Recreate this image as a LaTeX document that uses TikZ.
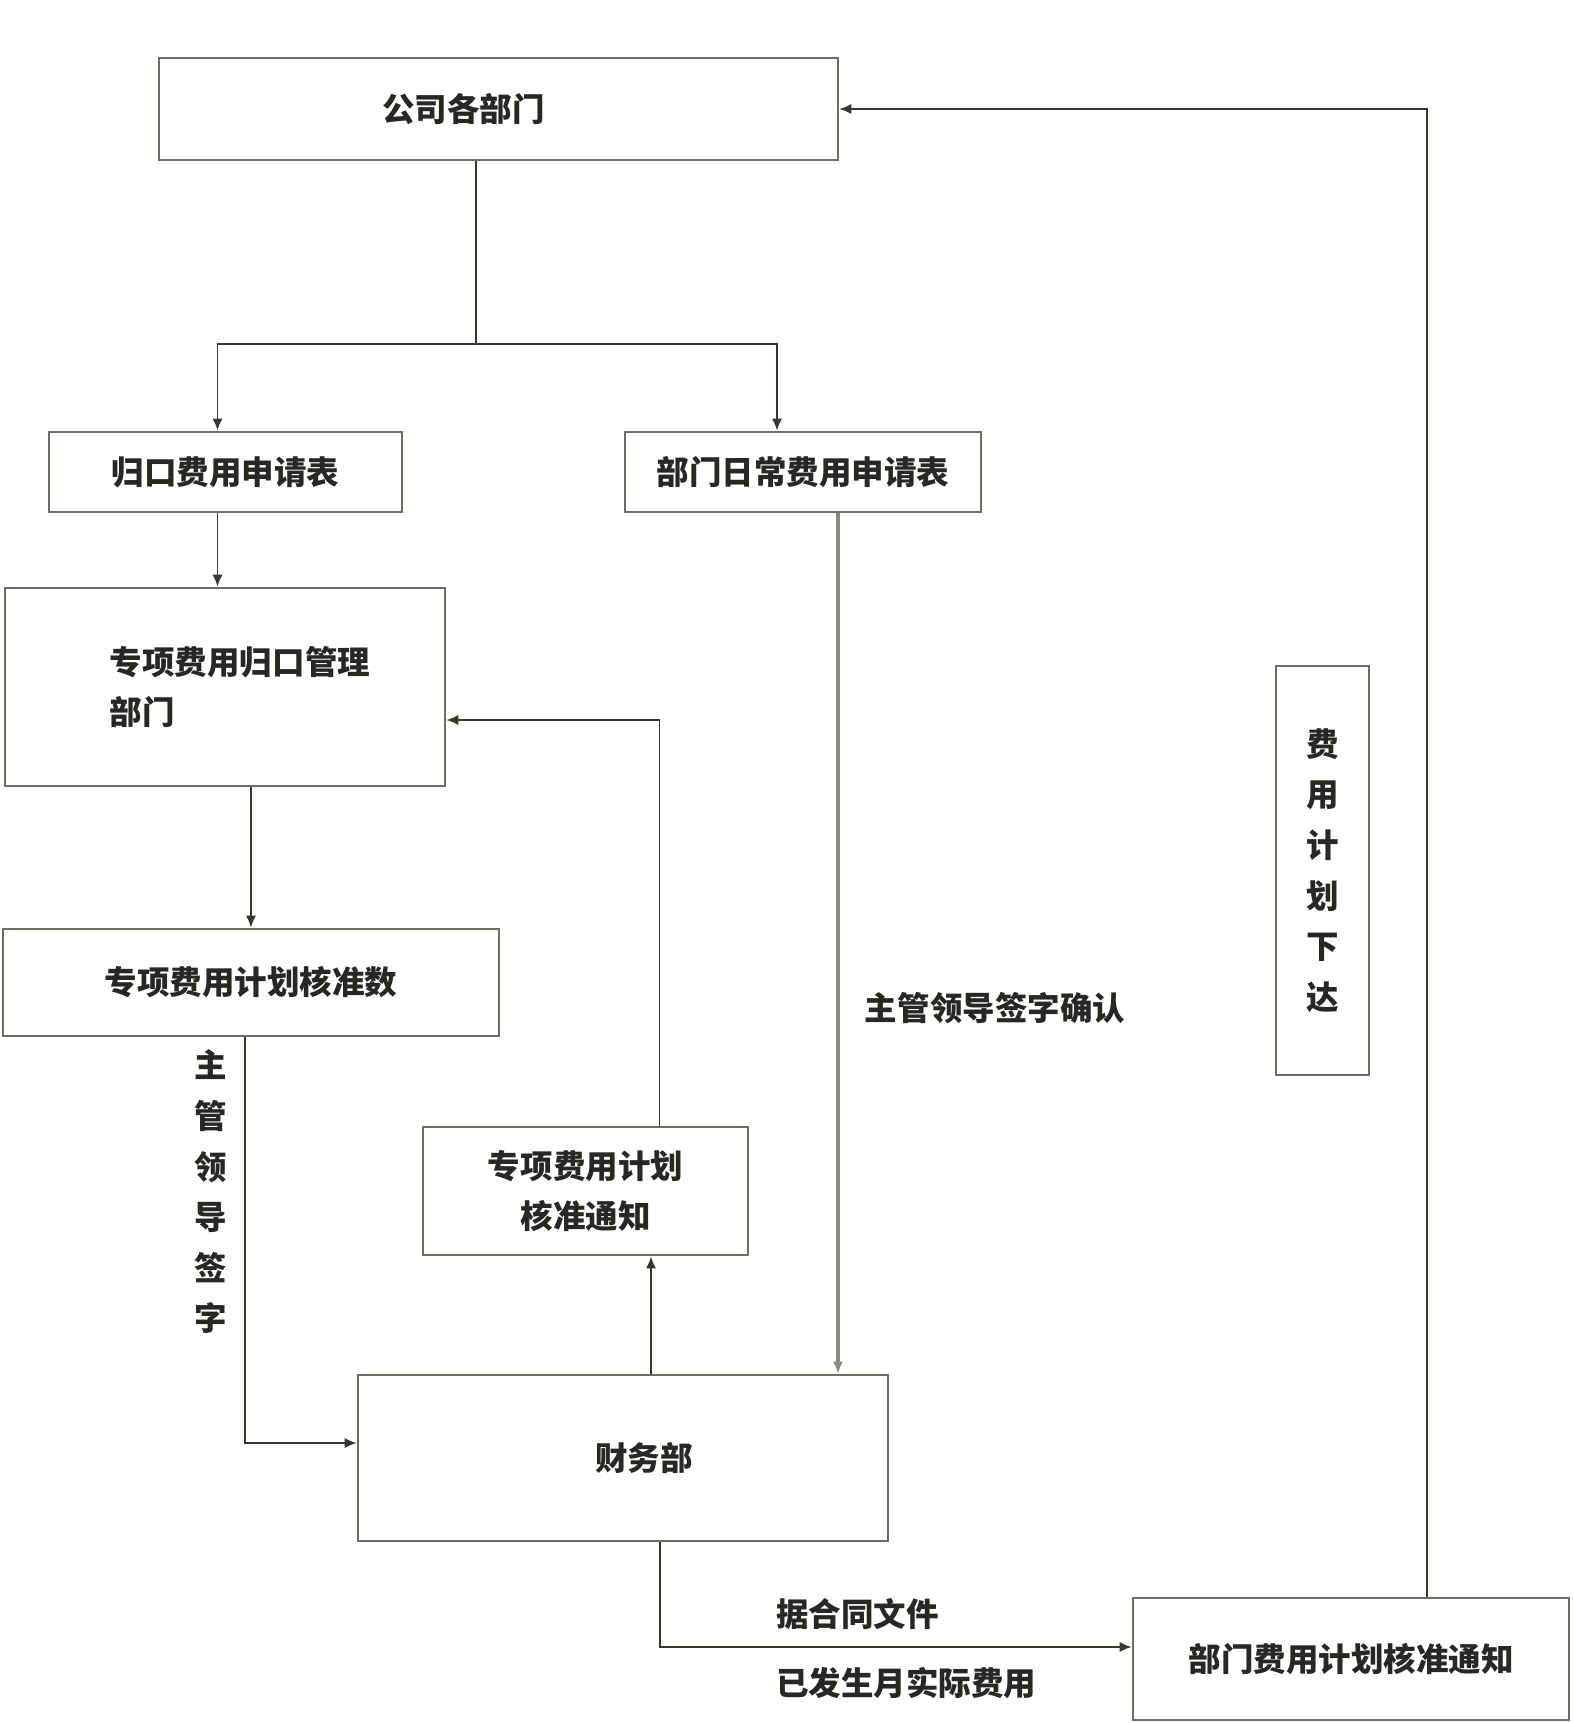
\documentclass[tikz,border=0pt]{standalone}
\usepackage{fontspec}
\newfontfamily\cjk{Noto Sans CJK SC}
\usepackage{tikz}
\usetikzlibrary{positioning,arrows.meta,calc}
\definecolor{lineclr}{RGB}{55,55,45}
\definecolor{boxclr}{RGB}{110,110,100}
\definecolor{txtclr}{RGB}{40,40,35}

\begin{document}
\begin{tikzpicture}[
      x=0.02cm, y=-0.02cm,
      box/.style={draw=boxclr, line width=1.5pt, inner sep=0pt, align=center, font=\cjk\bfseries\fontsize{18.5}{28.8}\selectfont, text=txtclr},
      lab/.style={inner sep=0pt, align=center, font=\cjk\bfseries\fontsize{18.5}{28.8}\selectfont, text=txtclr},
      link/.style={line width=1pt, draw=lineclr},
      arr/.style={-{Latex[length=2.4mm,width=2mm]}, line width=1pt, draw=lineclr}
  ]
    \fill[white] (0,0) rectangle (1573,1723);
    \useasboundingbox (0,0) rectangle (1573,1723);
    % boxes
    \node[box, minimum width=13.58cm, minimum height=2.04cm] (depts) at (498.5,109) {公司各部门\hspace*{1.4cm}};
    \node[box, minimum width=7.06cm, minimum height=1.6cm] (guikou) at (225.5,472) {归口费用申请表};
    \node[box, minimum width=7.12cm, minimum height=1.6cm] (daily) at (803,472) {部门日常费用申请表};
    \node[box, minimum width=8.8cm, minimum height=3.96cm, align=left] (mgmt) at (225,687) {\hspace*{0.6cm}专项费用归口管理\\\hspace*{0.6cm}部门};
    \node[box, minimum width=9.92cm, minimum height=2.14cm] (approved) at (251,982.5) {专项费用计划核准数};
    \node[box, minimum width=6.5cm, minimum height=2.56cm] (notice) at (585.5,1191) {专项费用计划\\核准通知};
    \node[box, minimum width=10.6cm, minimum height=3.32cm] (finance) at (623,1458) {\hspace*{0.84cm}财务部};
    \node[box, minimum width=8.72cm, minimum height=2.44cm] (deptnotice) at (1351,1659) {部门费用计划核准通知};
    \node[box, minimum width=1.86cm, minimum height=8.18cm] (issue) at (1322.5,870.5) {费\\用\\计\\划\\下\\达};
    % labels
    \node[lab] (sign) at (211,1192) {主\\管\\领\\导\\签\\字};
    \node[lab] (signok) at (995,1008) {主管领导签字确认};
    \node[lab, anchor=west] (contract) at (776,1614) {据合同文件};
    \node[lab, anchor=west] (actual) at (776,1683) {已发生月实际费用};
    % connectors
    \coordinate (split) at (476,344);
    \draw[link] (depts.south -| split) -- (split);
    \draw[arr] (split) -| ($(guikou.north)+(-8,0)$);
    \draw[arr] (split) -| ($(daily.north)+(-26,0)$);
    \draw[arr] ($(guikou.south)+(-8,0)$) coordinate (ga) -- (ga |- mgmt.north);
    \draw[arr] (approved.north |- mgmt.south) -- (approved.north);
    \draw[arr] ($(approved.south)+(-6,0)$) |- ($(finance.west)+(0,-15)$);
    \draw[arr] ($(finance.north)+(28,0)$) coordinate (fa) -- (fa |- notice.south);
    \draw[arr] ($(notice.north)+(74,0)$) |- ($(mgmt.east)+(0,33)$);
    \draw[arr, draw=boxclr!80, line width=1.8pt] ($(daily.south)+(35,0)$) coordinate (da) -- (da |- finance.north);
    \draw[arr] ($(finance.south)+(37,0)$) |- ($(deptnotice.west)+(0,-12)$);
    \draw[arr] ($(deptnotice.north)+(76,0)$) |- (depts.east);
  \end{tikzpicture}
\end{document}
